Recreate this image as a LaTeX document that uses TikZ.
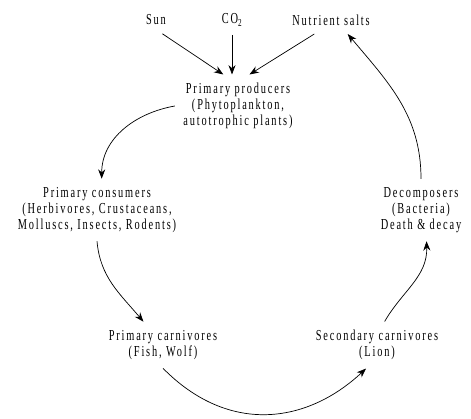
\documentclass[tikz,border=0pt]{standalone}
\usepackage{fontspec}
\newfontfamily\cyclefont{Liberation Serif}[LetterSpace=12,FakeStretch=0.68]
\usetikzlibrary{arrows.meta}
\tikzset{
  lbl/.style={font=\cyclefont\fontsize{13}{13.6}\selectfont, align=center, inner sep=0pt, outer sep=2.6mm},
  flow/.style={-{Stealth[length=8pt,width=6pt]}, line width=0.6pt}
}
\begin{document}
\begin{tikzpicture}[x=0.3mm,y=-0.3mm]
    \useasboundingbox (0,0) rectangle (471,419);
    % inputs at the top
    \def\ytop{20}
    \node[lbl] (sun) at (156,\ytop) {Sun};
    \node[lbl] (co2) at (232,\ytop) {CO\textsubscript{2}};
    \node[lbl] (salts) at (331,\ytop) {Nutrient salts};
    % the trophic levels
    \node[lbl] (producers) at (238,106) {Primary producers\\(Phytoplankton,\\autotrophic plants)};
    \node[lbl] (consumers) at (97,210) {Primary consumers\\(Herbivores, Crustaceans,\\Molluscs, Insects, Rodents)};
    \node[lbl] (pcarn) at (163,345) {Primary carnivores\\(Fish, Wolf)};
    \node[lbl] (scarn) at (377,345) {Secondary carnivores\\(Lion)};
    \node[lbl] (decomp) at (421,210) {Decomposers\\(Bacteria)\\Death \& decay};
    % straight arrows into the producers
    \draw[flow] (sun.-65) -- (producers.115);
    \draw[flow] (co2.south) -- (co2.south |- producers.north);
    \draw[flow] (salts.-140) -- (producers.70);
    % the cycle
    \draw[flow] (producers.west) to[out=190,in=90] ([xshift=4pt]consumers.north);
    \draw[flow] (consumers.south) to[out=-85,in=130] (pcarn.130);
    \draw[flow] (pcarn.south) .. controls +(65,66) and +(-60,56) .. (scarn.245);
    \draw[flow] (scarn.72) to[out=60,in=-88] (decomp.280);
    \draw[flow] (decomp.north) to[out=90,in=-50] (salts.-40);
\end{tikzpicture}
\end{document}
